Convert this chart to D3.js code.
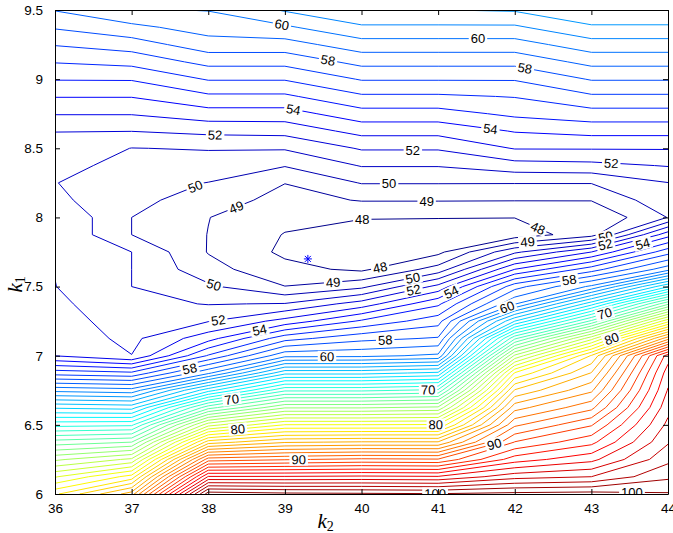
<!DOCTYPE html>
<html>
<head>
<meta charset="utf-8">
<script src="https://cdn.jsdelivr.net/npm/d3@7"></script>
<style>
  body { margin: 0; background: #fff; }
  svg { display: block; font-family: "Liberation Sans", Arial, sans-serif; }
</style>
</head>
<body>
<div id="chart"></div>
<script>
/* Contour map of the cost over (k2, k1) with its minimum marked */

// grid columns (k2) and rows (k1, top row first)
const k2Values = [36, 37, 38, 39, 40, 41, 42, 43, 44];
const k1Values = [9.5, 9.375, 9.25, 9.125, 9, 8.875, 8.75, 8.625, 8.5, 8.375, 8.25, 8.125, 8,
                  7.875, 7.75, 7.625, 7.5, 7.375, 7.25, 7.125, 7, 6.875, 6.75, 6.625, 6.5,
                  6.375, 6.25, 6.125, 6];

// values, one row per k1 value
const zRows = [
  [59.05, 59.9, 60.04, 61.1, 61.98, 61.98, 62.1, 62.95, 62.95],
  [58.1, 58.76, 59.42, 59.84, 60.84, 60.84, 60.84, 61.84, 61.84],
  [57.06, 57.49, 58.58, 58.58, 59.56, 59.56, 59.56, 60.56, 60.56],
  [56.06, 56.31, 57.31, 57.31, 58.31, 58.31, 58.31, 59.31, 59.31],
  [55.06, 55.08, 56.08, 56.08, 57.08, 57.08, 57.08, 58.08, 58.08],
  [54.05, 54.05, 54.82, 54.82, 55.85, 55.85, 56.05, 56.85, 56.85],
  [53.06, 53.06, 53.57, 53.57, 54.6, 54.6, 55.22, 55.6, 55.6],
  [52.02, 52.02, 52.26, 52.34, 53.34, 53.34, 54.07, 54.34, 54.34],
  [51.7, 50.98, 51.07, 51.09, 52.1, 52.1, 53.06, 53.07, 53.07],
  [51.35, 50.65, 50.51, 50.06, 51.06, 51.06, 51.6, 51.72, 52.06],
  [51.03, 50.35, 49.98, 49.02, 50.05, 50.05, 50.04, 50.04, 50.98],
  [51.22, 50.3, 49.51, 48.65, 49.06, 49.06, 49.04, 49.04, 50.7],
  [51.95, 50.0, 49.02, 48.3, 48.05, 48.02, 48.02, 48.1, 50.03],
  [51.95, 50.0, 48.98, 47.95, 47.6, 47.7, 47.4, 48.6, 53.6],
  [51.95, 51.0, 48.95, 47.8, 47.5, 47.75, 50.8, 53.0, 56.6],
  [51.97, 51.0, 49.35, 48.3, 47.8, 49.4, 54.0, 56.5, 59.6],
  [52.02, 51.0, 50.17, 49.02, 49.75, 52.3, 57.6, 60.2, 65.9],
  [52.22, 51.3, 50.95, 51.05, 52.45, 54.8, 59.9, 65.6, 72.8],
  [52.4, 51.55, 51.95, 53.35, 55.15, 56.6, 65.0, 71.2, 79.7],
  [52.6, 51.75, 53.6, 56.6, 57.7, 58.1, 70.8, 77.6, 86.6],
  [52.97, 52.02, 56.1, 59.7, 59.75, 60.2, 76.2, 83.1, 93.5],
  [56.55, 56.2, 59.8, 64.7, 64.7, 65.2, 81.1, 85.05, 94.52],
  [60.7, 60.4, 65.6, 69.8, 69.8, 70.2, 84.1, 86.8, 95.08],
  [64.85, 64.6, 71.6, 74.9, 74.9, 75.2, 86.6, 88.7, 95.65],
  [68.65, 68.8, 77.6, 80.05, 80.05, 80.1, 88.8, 90.9, 96.26],
  [72.45, 73.0, 83.5, 84.9, 85.1, 85.1, 91.05, 92.7, 96.9],
  [75.8, 77.2, 89.5, 89.9, 90.2, 90.1, 93.5, 94.7, 97.73],
  [78.9, 81.4, 95.1, 95.1, 95.2, 95.1, 96.6, 97.0, 98.8],
  [81.8, 85.5, 100.6, 100.3, 100.2, 100.1, 100.3, 100.4, 100.1]
];

const levels = [48, 49, 50, 51, 52, 53, 54, 55, 56, 57, 58, 59, 60, 61, 62, 63, 64, 65, 66, 67,
                68, 69, 70, 71, 72, 73, 74, 75, 76, 77, 78, 79, 80, 81, 82, 83, 84, 85, 86, 87,
                88, 89, 90, 91, 92, 93, 94, 95, 96, 97, 98, 99, 100];

// inline labels: level and where it sits
const labelLevels = [60, 60, 58, 58, 54, 54, 52, 52, 52, 50, 50, 49, 49, 48, 48, 50, 49, 52, 54, 48,
                     50, 52, 49, 54, 50, 52, 54, 58, 58, 60, 60, 58, 70, 80, 70, 70, 80, 80, 90, 90,
                     100, 100];
const labelK2 = [38.96, 41.52, 39.56, 42.13, 39.11, 41.68, 38.09, 40.67, 43.26, 37.84,
                 40.36, 38.36, 40.85, 40.01, 42.30, 43.18, 42.17, 43.19, 43.69, 40.25,
                 40.67, 40.67, 39.63, 41.17, 38.06, 38.13, 38.68, 40.31, 42.72, 41.90,
                 39.55, 37.76, 43.18, 43.28, 38.31, 40.87, 38.39, 40.97, 39.18, 41.73,
                 40.96, 43.53];
const labelK1 = [9.39, 9.28, 9.13, 9.07, 8.78, 8.63, 8.61, 8.49, 8.40, 8.21,
                 8.24, 8.08, 8.12, 7.99, 7.92, 7.87, 7.81, 7.79, 7.77, 7.62,
                 7.56, 7.50, 7.53, 7.46, 7.49, 7.26, 7.16, 7.11, 7.52, 7.35,
                 6.98, 6.90, 7.29, 7.10, 6.67, 6.74, 6.45, 6.51, 6.24, 6.37,
                 6.00, 6.00];

const minimum = [39.3, 7.7]; // [k2, k1]

const xTicks = [36, 37, 38, 39, 40, 41, 42, 43, 44];
const yTicks = [6, 6.5, 7, 7.5, 8, 8.5, 9, 9.5];

const width = 673,
      height = 533,
      margin = ({ top: 10, right: 5, bottom: 39, left: 55 });

const svg = d3.select("#chart")
    .append("svg")
    .attr("width", width)
    .attr("height", height)
    .attr("viewBox", [0, 0, width, height]);

svg.append("rect").attr("width", width).attr("height", height).attr("fill", "#fff");

const x = d3.scaleLinear()
    .domain([d3.min(xTicks), d3.max(xTicks)])
    .range([margin.left, width - margin.right]);

const y = d3.scaleLinear()
    .domain([d3.min(yTicks), d3.max(yTicks)])
    .range([height - margin.bottom, margin.top]);

// contour grid coords -> pixels (d3.contours puts cell i at i + 0.5)
const nx = k2Values.length, ny = k1Values.length;
const gx = d3.scaleLinear().domain([0.5, nx - 0.5]).range([x(k2Values[0]), x(k2Values[nx - 1])]);
const gy = d3.scaleLinear().domain([0.5, ny - 0.5]).range([y(k1Values[0]), y(k1Values[ny - 1])]);

const values = zRows.flat();
const [zMin, zMax] = d3.extent(values);

// matlab style jet colormap
function jet(t) {
  const c = v => Math.max(0, Math.min(1, v));
  const r = c(1.5 - Math.abs(4 * t - 3)),
        g = c(1.5 - Math.abs(4 * t - 2)),
        b = c(1.5 - Math.abs(4 * t - 1));
  return d3.rgb(r * 255, g * 255, b * 255).formatHex();
}
const color = v => jet((v - zMin) / (zMax - zMin));

const contours = d3.contours()
    .size([nx, ny])
    .thresholds(levels)(values);

// pixel rings per level
const ringsByLevel = new Map();
contours.forEach(c => {
  const rings = [];
  c.coordinates.forEach(poly => poly.forEach(ring => {
    rings.push(ring.map(([px, py]) => [gx(px), gy(py)]));
  }));
  ringsByLevel.set(c.value, rings);
});

svg.append("clipPath")
    .attr("id", "plot-clip")
  .append("rect")
    .attr("x", margin.left)
    .attr("y", margin.top)
    .attr("width", width - margin.left - margin.right)
    .attr("height", height - margin.top - margin.bottom);

const plot = svg.append("g").attr("clip-path", "url(#plot-clip)");

plot.append("g")
    .attr("fill", "none")
    .attr("stroke-width", 1)
  .selectAll("path")
  .data(contours)
  .join("path")
    .attr("stroke", d => color(d.value))
    .attr("d", d => ringsByLevel.get(d.value)
        .map(r => "M" + r.map(p => p[0].toFixed(2) + "," + p[1].toFixed(2)).join("L") + "Z")
        .join(""));

// place each label on the nearest piece of its contour
const inPlot = (px, py) => px >= margin.left - 0.5 && px <= width - margin.right + 0.5 &&
                           py >= margin.top - 0.5 && py <= height - margin.bottom + 0.5;

function nearest(level, px, py) {
  let best = null;
  (ringsByLevel.get(level) || []).forEach(ring => {
    for (let i = 1; i < ring.length; i++) {
      const [ax, ay] = ring[i - 1], [bx, by] = ring[i];
      if (!inPlot(ax, ay) || !inPlot(bx, by)) continue;
      const dx = bx - ax, dy = by - ay, len2 = dx * dx + dy * dy;
      if (len2 < 1e-6) continue;
      const t = Math.max(0, Math.min(1, ((px - ax) * dx + (py - ay) * dy) / len2));
      const qx = ax + t * dx, qy = ay + t * dy;
      const d = (qx - px) ** 2 + (qy - py) ** 2;
      if (!best || d < best.d) best = { d, x: qx, y: qy, angle: Math.atan2(dy, dx) * 180 / Math.PI };
    }
  });
  return best;
}

const labelData = labelLevels.map((lv, i) => {
  const px = x(labelK2[i]), py = y(labelK1[i]);
  const hit = nearest(lv, px, py) || { x: px, y: py, angle: 0 };
  let a = hit.angle;
  if (a > 90) a -= 180;
  if (a < -90) a += 180;
  return { text: String(lv), x: hit.x, y: hit.y, angle: a };
});

const label = plot.append("g")
  .selectAll("g")
  .data(labelData)
  .join("g")
    .attr("transform", d => `translate(${d.x},${d.y}) rotate(${d.angle})`);

label.append("rect").attr("fill", "#fff");

label.append("text")
    .text(d => d.text)
    .attr("text-anchor", "middle")
    .attr("dy", "0.36em")
    .attr("font-size", 13)
    .attr("fill", "#000");

label.each(function() {
  const g = d3.select(this);
  const w = g.select("text").node().getComputedTextLength();
  g.select("rect")
      .attr("x", -w / 2 - 2)
      .attr("y", -6)
      .attr("width", w + 4)
      .attr("height", 12);
});

// minimum marker
svg.append("path")
    .attr("transform", `translate(${x(minimum[0])},${y(minimum[1])})`)
    .attr("d", "M-4,0H4M0,-4V4M-3,-3L3,3M-3,3L3,-3")
    .attr("stroke", "#0000ff")
    .attr("stroke-width", 1)
    .attr("fill", "none");

// axes, ticks inside on all four sides
svg.append("g")
    .attr("transform", `translate(0,${height - margin.bottom})`)
    .call(d3.axisBottom(x).tickValues(xTicks).tickSize(-5).tickSizeOuter(0).tickPadding(9)
        .tickFormat(d3.format("~g")));

svg.append("g")
    .attr("transform", `translate(${margin.left},0)`)
    .call(d3.axisLeft(y).tickValues(yTicks).tickSize(-5).tickSizeOuter(0).tickPadding(12)
        .tickFormat(d3.format("~g")));

svg.append("g")
    .attr("transform", `translate(0,${margin.top})`)
    .call(d3.axisTop(x).tickValues(xTicks).tickSize(-5).tickSizeOuter(0).tickFormat(""));

svg.append("g")
    .attr("transform", `translate(${width - margin.right},0)`)
    .call(d3.axisRight(y).tickValues(yTicks).tickSize(-5).tickSizeOuter(0).tickFormat(""));

svg.selectAll(".tick text")
    .attr("font-size", 13.5)
    .attr("font-family", "Liberation Sans, Arial, sans-serif")
    .attr("fill", "#000");
svg.selectAll(".domain, .tick line").attr("stroke", "#000");

// axis titles
const xTitle = svg.append("text")
    .attr("x", x(40) - 44)
    .attr("y", height - 5)
    .attr("font-family", "Liberation Serif, serif");
xTitle.append("tspan").attr("font-style", "italic").attr("font-size", 21).text("k");
xTitle.append("tspan").attr("font-size", 14).attr("dy", 3).text("2");

const yTitle = svg.append("text")
    .attr("transform", `translate(22,${y(7.5) + 6}) rotate(-90)`)
    .attr("font-family", "Liberation Serif, serif");
yTitle.append("tspan").attr("font-style", "italic").attr("font-size", 21).text("k");
yTitle.append("tspan").attr("font-size", 14).attr("dy", 3).text("1");
</script>
</body>
</html>
